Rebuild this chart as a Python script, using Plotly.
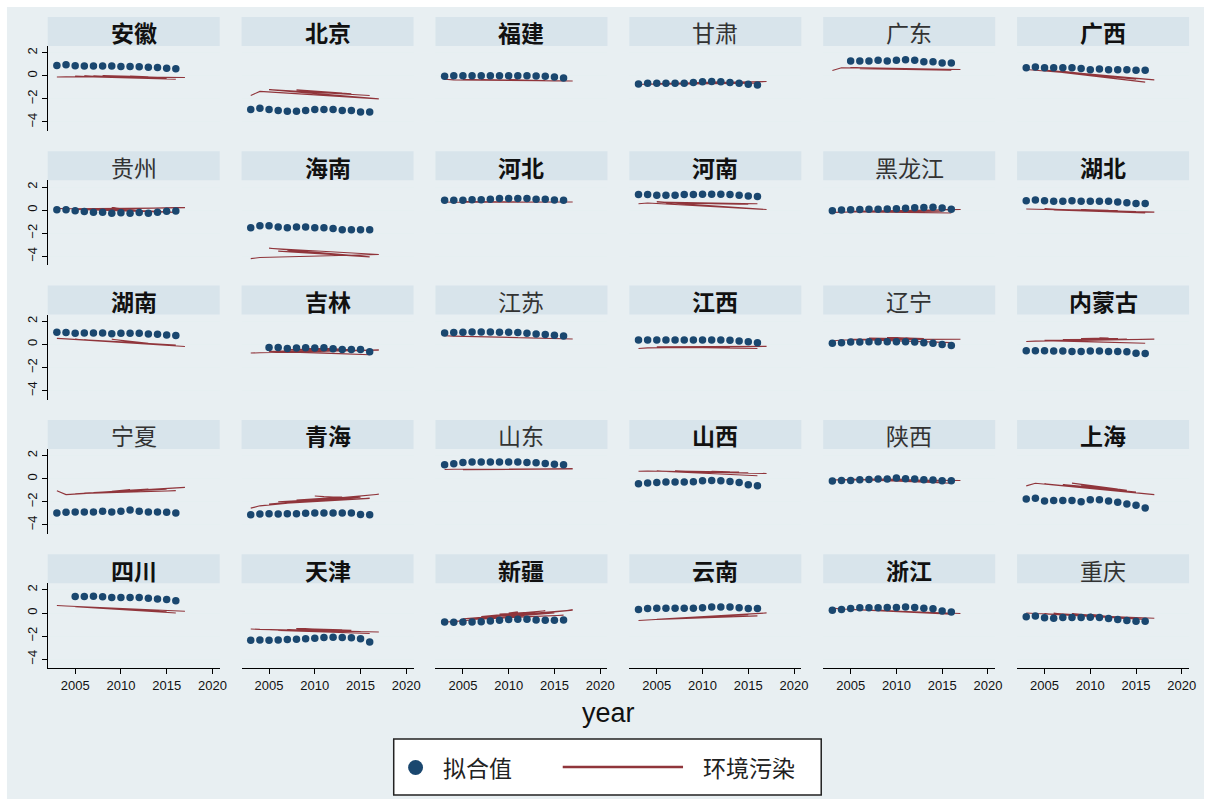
import plotly.graph_objects as go

# ---------------- data ----------------
provinces = ["安徽", "北京", "福建", "甘肃", "广东", "广西",
             "贵州", "海南", "河北", "河南", "黑龙江", "湖北",
             "湖南", "吉林", "江苏", "江西", "辽宁", "内蒙古",
             "宁夏", "青海", "山东", "山西", "陕西", "上海",
             "四川", "天津", "新疆", "云南", "浙江", "重庆"]
bold_titles = {"安徽", "北京", "福建", "广西", "海南", "河北", "河南", "湖北",
               "湖南", "吉林", "江西", "内蒙古", "青海", "山西", "上海",
               "四川", "天津", "新疆", "云南", "浙江"}

fit_years_full = list(range(2003, 2017))
fit_years_late = list(range(2005, 2017))
fit_start = {"广东": 2005, "吉林": 2005, "四川": 2005}

# fitted values (拟合值)
fitted = {
    "安徽": [0.90, 0.95, 0.88, 0.84, 0.84, 0.84, 0.84, 0.80, 0.80, 0.79, 0.75, 0.72, 0.66, 0.60],
    "北京": [-2.91, -2.80, -2.91, -3.00, -3.06, -3.06, -3.00, -2.91, -2.91, -2.91, -3.00, -3.00, -3.14, -3.14],
    "福建": [-0.05, 0.00, 0.00, 0.00, 0.00, 0.00, 0.00, 0.00, 0.00, 0.00, -0.02, -0.05, -0.10, -0.20],
    "甘肃": [-0.70, -0.64, -0.64, -0.64, -0.64, -0.64, -0.58, -0.52, -0.50, -0.52, -0.58, -0.64, -0.73, -0.79],
    "广东": [1.28, 1.28, 1.28, 1.34, 1.28, 1.34, 1.40, 1.34, 1.22, 1.22, 1.10, 1.10],
    "广西": [0.70, 0.76, 0.70, 0.70, 0.70, 0.70, 0.64, 0.52, 0.58, 0.52, 0.52, 0.52, 0.47, 0.47],
    "贵州": [0.02, 0.02, -0.05, -0.12, -0.18, -0.18, -0.28, -0.22, -0.28, -0.20, -0.28, -0.18, -0.10, -0.08],
    "海南": [-1.53, -1.35, -1.35, -1.47, -1.53, -1.47, -1.47, -1.53, -1.53, -1.59, -1.71, -1.71, -1.71, -1.71],
    "河北": [0.85, 0.85, 0.85, 0.90, 0.90, 0.93, 1.00, 1.00, 1.00, 1.00, 0.93, 0.93, 0.87, 0.85],
    "河南": [1.34, 1.34, 1.28, 1.28, 1.28, 1.34, 1.34, 1.37, 1.37, 1.37, 1.34, 1.28, 1.22, 1.17],
    "黑龙江": [-0.05, 0.00, 0.02, 0.05, 0.08, 0.08, 0.10, 0.12, 0.15, 0.20, 0.22, 0.25, 0.18, 0.08],
    "湖北": [0.82, 0.88, 0.82, 0.76, 0.76, 0.82, 0.76, 0.76, 0.76, 0.76, 0.70, 0.64, 0.58, 0.58],
    "湖南": [1.05, 1.02, 0.96, 0.99, 0.99, 0.99, 0.93, 0.96, 0.96, 0.96, 0.90, 0.87, 0.82, 0.76],
    "吉林": [-0.26, -0.26, -0.35, -0.32, -0.29, -0.32, -0.29, -0.38, -0.44, -0.44, -0.44, -0.64],
    "江苏": [0.99, 1.02, 1.05, 1.08, 1.08, 1.08, 1.05, 1.05, 1.02, 0.96, 0.90, 0.85, 0.79, 0.73],
    "江西": [0.38, 0.38, 0.38, 0.38, 0.38, 0.38, 0.38, 0.38, 0.38, 0.37, 0.35, 0.29, 0.23, 0.15],
    "辽宁": [0.09, 0.15, 0.20, 0.20, 0.23, 0.23, 0.23, 0.23, 0.23, 0.20, 0.15, 0.09, 0.00, -0.09],
    "内蒙古": [-0.55, -0.55, -0.55, -0.58, -0.58, -0.61, -0.61, -0.58, -0.58, -0.61, -0.61, -0.64, -0.76, -0.79],
    "宁夏": [-2.97, -2.91, -2.88, -2.88, -2.88, -2.82, -2.88, -2.82, -2.70, -2.82, -2.88, -2.88, -2.91, -2.97],
    "青海": [-3.12, -3.06, -3.03, -3.06, -3.03, -3.03, -3.00, -2.97, -2.97, -2.97, -2.97, -2.97, -3.09, -3.12],
    "山东": [1.21, 1.29, 1.41, 1.44, 1.44, 1.44, 1.44, 1.44, 1.44, 1.41, 1.38, 1.32, 1.26, 1.21],
    "山西": [-0.44, -0.38, -0.32, -0.29, -0.29, -0.29, -0.26, -0.18, -0.15, -0.18, -0.24, -0.32, -0.53, -0.62],
    "陕西": [-0.20, -0.15, -0.15, -0.09, -0.06, -0.03, -0.03, 0.06, 0.00, -0.03, -0.09, -0.12, -0.18, -0.18],
    "上海": [-1.76, -1.70, -1.94, -1.88, -1.88, -1.88, -2.00, -1.82, -1.82, -1.94, -2.03, -2.20, -2.29, -2.53],
    "四川": [1.43, 1.43, 1.46, 1.40, 1.34, 1.34, 1.34, 1.34, 1.28, 1.22, 1.16, 1.07],
    "天津": [-2.36, -2.33, -2.36, -2.33, -2.30, -2.27, -2.24, -2.18, -2.12, -2.09, -2.12, -2.15, -2.24, -2.51],
    "新疆": [-0.78, -0.81, -0.78, -0.78, -0.75, -0.69, -0.63, -0.57, -0.54, -0.54, -0.60, -0.63, -0.63, -0.60],
    "云南": [0.30, 0.39, 0.42, 0.42, 0.42, 0.42, 0.42, 0.45, 0.51, 0.51, 0.51, 0.45, 0.39, 0.39],
    "浙江": [0.24, 0.30, 0.39, 0.45, 0.45, 0.45, 0.48, 0.48, 0.51, 0.48, 0.42, 0.36, 0.18, 0.09],
    "重庆": [-0.33, -0.27, -0.42, -0.45, -0.39, -0.39, -0.39, -0.36, -0.39, -0.48, -0.57, -0.66, -0.72, -0.72],
}

# pollution (环境污染), by year 2003..2017
pollution_years = list(range(2003, 2018))
pollution = {
    "安徽": [-0.10, -0.08, -0.05, -0.02, -0.03, 0.02, 0.00, 0.03, -0.02, -0.05, -0.08, -0.12, -0.20, -0.30, -0.15],
    "北京": [-1.70, -1.35, -1.20, -1.25, -1.30, -1.22, -1.30, -1.35, -1.40, -1.45, -1.50, -1.55, -1.62, -1.70, -2.00],
    "福建": [-0.30, -0.35, -0.32, -0.38, -0.33, -0.38, -0.35, -0.35, -0.35, -0.38, -0.40, -0.42, -0.45, -0.50, -0.45],
    "甘肃": [-0.75, -0.72, -0.68, -0.72, -0.68, -0.65, -0.60, -0.58, -0.55, -0.55, -0.55, -0.55, -0.58, -0.65, -0.50],
    "广东": [0.45, 0.70, 0.72, 0.62, 0.68, 0.60, 0.62, 0.60, 0.58, 0.55, 0.55, 0.55, 0.50, 0.48, 0.55],
    "广西": [0.55, 0.48, 0.50, 0.38, 0.40, 0.25, 0.20, 0.05, 0.05, -0.10, -0.10, -0.25, -0.30, -0.55, -0.35],
    "贵州": [0.15, 0.12, 0.05, 0.12, 0.02, 0.10, 0.20, 0.10, 0.00, -0.05, -0.10, -0.10, -0.15, -0.20, 0.20],
    "海南": [-4.20, -4.10, -3.30, -3.55, -3.50, -3.60, -3.65, -3.75, -3.80, -3.85, -3.90, -3.95, -4.00, -4.05, -3.85],
    "河北": [0.70, 0.68, 0.74, 0.70, 0.73, 0.70, 0.72, 0.72, 0.72, 0.72, 0.72, 0.72, 0.70, 0.68, 0.70],
    "河南": [0.55, 0.62, 0.70, 0.62, 0.66, 0.60, 0.60, 0.58, 0.55, 0.52, 0.50, 0.50, 0.50, 0.55, 0.05],
    "黑龙江": [-0.20, -0.18, -0.10, -0.16, -0.10, -0.12, -0.08, -0.05, -0.05, -0.05, -0.05, -0.05, -0.10, -0.25, 0.05],
    "湖北": [0.10, 0.08, 0.10, 0.02, 0.05, 0.00, 0.05, 0.02, 0.00, -0.02, -0.05, -0.08, -0.12, -0.25, -0.18],
    "湖南": [0.52, 0.48, 0.45, 0.40, 0.42, 0.35, 0.45, 0.30, 0.20, 0.15, 0.10, 0.05, 0.00, -0.05, -0.18],
    "吉林": [-0.75, -0.72, -0.60, -0.58, -0.45, -0.42, -0.35, -0.35, -0.35, -0.40, -0.40, -0.45, -0.55, -0.90, -0.50],
    "江苏": [0.75, 0.72, 0.70, 0.66, 0.68, 0.64, 0.65, 0.62, 0.60, 0.58, 0.56, 0.55, 0.52, 0.50, 0.47],
    "江西": [-0.35, -0.30, -0.20, -0.25, -0.20, -0.24, -0.20, -0.20, -0.22, -0.25, -0.28, -0.30, -0.33, -0.35, -0.17],
    "辽宁": [0.30, 0.38, 0.45, 0.40, 0.52, 0.48, 0.60, 0.58, 0.55, 0.50, 0.50, 0.48, 0.45, 0.15, 0.45],
    "内蒙古": [0.25, 0.28, 0.35, 0.30, 0.42, 0.38, 0.50, 0.55, 0.58, 0.55, 0.50, 0.45, 0.42, 0.10, 0.45],
    "宁夏": [-1.05, -1.38, -1.30, -1.25, -1.20, -1.15, -1.10, -1.00, -0.95, -0.90, -0.90, -0.90, -0.90, -1.05, -0.75],
    "青海": [-2.55, -2.35, -2.20, -2.00, -2.05, -1.85, -1.75, -1.50, -1.55, -1.60, -1.60, -1.60, -1.60, -1.70, -1.35],
    "山东": [0.80, 0.82, 0.78, 0.84, 0.80, 0.82, 0.82, 0.82, 0.82, 0.82, 0.82, 0.84, 0.84, 0.85, 0.85],
    "山西": [0.65, 0.66, 0.67, 0.62, 0.67, 0.63, 0.65, 0.64, 0.63, 0.62, 0.60, 0.58, 0.50, 0.25, 0.45],
    "陕西": [-0.12, -0.08, -0.05, -0.08, -0.02, -0.05, -0.02, -0.05, -0.08, -0.10, -0.15, -0.20, -0.28, -0.38, -0.15],
    "上海": [-0.62, -0.40, -0.45, -0.55, -0.50, -0.38, -0.55, -0.60, -0.70, -0.80, -0.90, -1.00, -1.15, -1.30, -1.38],
    "四川": [0.65, 0.60, 0.55, 0.52, 0.45, 0.45, 0.38, 0.35, 0.30, 0.25, 0.20, 0.15, 0.10, 0.00, 0.15],
    "天津": [-1.38, -1.42, -1.45, -1.52, -1.45, -1.35, -1.45, -1.45, -1.48, -1.50, -1.45, -1.50, -1.60, -1.78, -1.65],
    "新疆": [-0.78, -0.75, -0.50, -0.55, -0.30, -0.35, -0.10, 0.00, 0.10, -0.10, 0.10, 0.20, 0.00, -0.20, 0.25],
    "云南": [-0.65, -0.60, -0.55, -0.52, -0.45, -0.45, -0.38, -0.35, -0.30, -0.28, -0.25, -0.20, -0.15, -0.25, 0.00],
    "浙江": [0.42, 0.35, 0.30, 0.28, 0.22, 0.25, 0.15, 0.12, 0.10, 0.05, 0.02, 0.00, -0.05, -0.10, -0.05],
    "重庆": [0.00, -0.05, -0.08, -0.02, -0.12, -0.05, -0.08, -0.12, -0.20, -0.30, -0.40, -0.50, -0.55, -0.55, -0.45],
}
# order in which the observations are connected (data not sorted by year)
line_order = [2003, 2004, 2017, 2005, 2016, 2006, 2015, 2007, 2014, 2008, 2013, 2009, 2012, 2010, 2011]

x_ticks = [2005, 2010, 2015, 2020]
y_ticks = [-4, -2, 0, 2]

# ---------------- styling ----------------
W, H = 1211, 799
BG = "#e8eff2"
STRIP = "#d8e4eb"
GRID = "#e6eff1"
NAVY = "#1a476f"
MAROON = "#90353b"
NCOL, NROW = 6, 5
COL_LEFT, COL_PITCH, PW = 48, 195, 173
ROW_TOP, ROW_PITCH, STRIP_H, PH = 17, 134.3, 29, 85
X_RANGE = [2002, 2020.8]
Y_RANGE = [-4.78, 2.58]

def px_x(x):
    return x / W

def px_y(y):
    return 1 - y / H

fig = go.Figure()
shapes = [dict(type="rect", xref="paper", yref="paper", x0=px_x(7), x1=1, y0=0, y1=px_y(7),
               fillcolor=BG, line=dict(width=0), layer="below")]
annotations = []
layout_axes = {}

for i, prov in enumerate(provinces):
    r, c = divmod(i, NCOL)
    k = i + 1
    xa = "x" if k == 1 else f"x{k}"
    ya = "y" if k == 1 else f"y{k}"
    left = COL_LEFT + c * COL_PITCH
    top = ROW_TOP + r * ROW_PITCH
    ptop = top + STRIP_H
    pbot = ptop + PH

    start = fit_start.get(prov, 2003)
    years = fit_years_late if start == 2005 else fit_years_full
    vals = dict(zip(pollution_years, pollution[prov]))
    fig.add_trace(go.Scatter(x=line_order, y=[vals[yr] for yr in line_order], mode="lines",
                             line=dict(color=MAROON, width=1.1),
                             xaxis=xa, yaxis=ya, showlegend=False, hoverinfo="skip"))
    fig.add_trace(go.Scatter(x=years, y=fitted[prov], mode="markers",
                             marker=dict(color=NAVY, size=7.5, line=dict(width=0)),
                             xaxis=xa, yaxis=ya, showlegend=False, hoverinfo="skip"))

    bottom_row = (r == NROW - 1)
    first_col = (c == 0)
    layout_axes["xaxis" if k == 1 else f"xaxis{k}"] = dict(
        domain=[px_x(left), px_x(left + PW)], anchor=ya, range=X_RANGE,
        showgrid=False, zeroline=False,
        showline=bottom_row, linecolor="#000000", linewidth=1,
        ticks="outside" if bottom_row else "", ticklen=5, tickcolor="#000000",
        tickvals=x_ticks, showticklabels=bottom_row,
        tickfont=dict(family="Liberation Sans, Arial", size=13, color="#111111"),
    )
    layout_axes["yaxis" if k == 1 else f"yaxis{k}"] = dict(
        domain=[px_y(pbot), px_y(ptop)], anchor=xa, range=Y_RANGE,
        showgrid=True, gridcolor=GRID, gridwidth=1, zeroline=False,
        showline=first_col, linecolor="#000000", linewidth=1,
        ticks="outside" if first_col else "", ticklen=5, tickcolor="#000000",
        tickvals=y_ticks, showticklabels=first_col, tickangle=-90,
        tickfont=dict(family="Liberation Sans, Arial", size=13, color="#111111"),
    )
    shapes.append(dict(type="rect", xref="paper", yref="paper",
                       x0=px_x(left), x1=px_x(left + PW), y0=px_y(ptop), y1=px_y(top),
                       fillcolor=STRIP, line=dict(width=0), layer="below"))
    is_bold = prov in bold_titles
    annotations.append(dict(
        x=px_x(left + PW / 2), y=px_y(top + STRIP_H / 2 + 1), xref="paper", yref="paper",
        text=f"<b>{prov}</b>" if is_bold else prov, showarrow=False,
        xanchor="center", yanchor="middle",
        font=dict(family="Noto Sans CJK SC", size=23, color="#111111" if is_bold else "#333333"),
    ))

# x axis title
annotations.append(dict(x=px_x(612), y=px_y(713), xref="paper", yref="paper", text="year",
                        showarrow=False, xanchor="center", yanchor="middle",
                        font=dict(family="Liberation Sans, Arial", size=27, color="#111111")))

# legend (drawn manually)
shapes.append(dict(type="rect", xref="paper", yref="paper", x0=px_x(396), x1=px_x(826),
                   y0=px_y(795), y1=px_y(739), fillcolor="#ffffff",
                   line=dict(color="#222222", width=1.5)))
shapes.append(dict(type="circle", xref="paper", yref="paper", x0=px_x(410.5), x1=px_x(425.5),
                   y0=px_y(775), y1=px_y(760), fillcolor=NAVY, line=dict(width=0)))
shapes.append(dict(type="line", xref="paper", yref="paper", x0=px_x(566), x1=px_x(687),
                   y0=px_y(767), y1=px_y(767), line=dict(color=MAROON, width=2.6)))
annotations.append(dict(x=px_x(444), y=px_y(767), xref="paper", yref="paper", text="拟合值",
                        showarrow=False, xanchor="left", yanchor="middle",
                        font=dict(family="Noto Sans CJK SC", size=23, color="#222222")))
annotations.append(dict(x=px_x(705), y=px_y(767), xref="paper", yref="paper", text="环境污染",
                        showarrow=False, xanchor="left", yanchor="middle",
                        font=dict(family="Noto Sans CJK SC", size=23, color="#222222")))

fig.update_layout(
    width=W, height=H, margin=dict(l=0, r=0, t=0, b=0),
    paper_bgcolor="#ffffff", plot_bgcolor="#ffffff",
    showlegend=False, shapes=shapes, annotations=annotations,
    **layout_axes,
)

fig.write_html(
    "out.html",
    config={"responsive": False, "displayModeBar": False},
    post_script="document.documentElement.style.overflow='hidden';"
                "document.body.style.margin='0';document.body.style.overflow='hidden';",
)
